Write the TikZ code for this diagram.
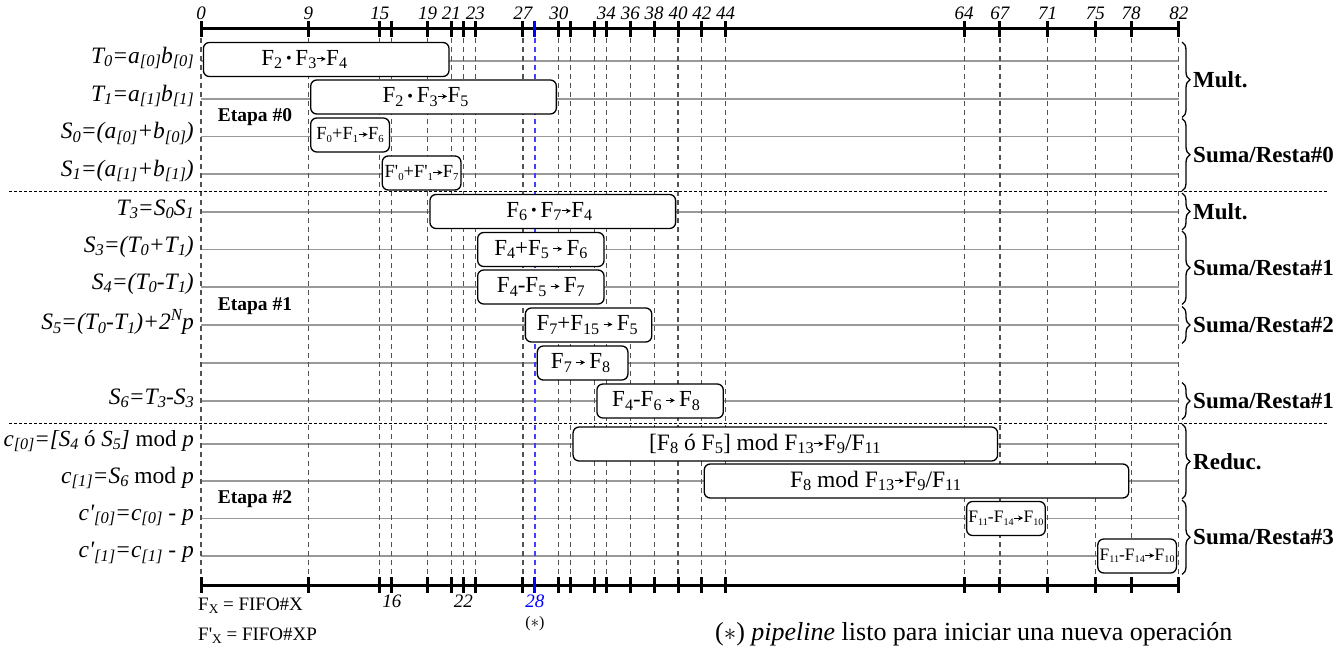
\documentclass[tikz,border=0pt]{standalone}
\usepackage{fontspec}
\setmainfont{Liberation Serif}
\usepackage{graphicx}
\usetikzlibrary{decorations.pathreplacing,arrows.meta}
\newcommand{\sbs}[1]{\raisebox{-0.3ex}{\scalebox{0.7}{#1}}}
\newcommand{\sbl}[1]{\raisebox{-0.3ex}{\scalebox{0.7}{#1}}}
\newcommand{\sbt}[1]{\raisebox{-0.3ex}{\scalebox{0.58}{#1}}}
\newcommand{\sps}[1]{\raisebox{0.9ex}{\scalebox{0.72}{#1}}}
\newcommand{\pr}{\textquotesingle}
\newcommand{\F}[1]{F\sbs{#1}}
\newcommand{\Ft}[1]{F\sbt{#1}}
\newcommand{\Fq}[1]{F\pr\sbs{#1}}
\newcommand{\Fqt}[1]{F\pr\sbt{#1}}
\newcommand{\arw}{\tikz[baseline=-0.28em]\draw[line width=0.9pt,-{Stealth[length=5pt,width=5pt]}](0pt,0pt)--(9pt,0pt);}
\newcommand{\bul}{\,\raisebox{0.08em}{\scalebox{0.7}{\textbullet}}\,}
% name, start, end, y, text, font size, left shift of the text (pt)
\newcommand{\opb}[7]{\node[opbox, font=\fontsize{#6}{#6}\selectfont, minimum width={(#3-#2)*11.925-4.8}] (#1) at ({201+(#2+#3)*5.9625}, #4) {#5\hspace*{#7pt}};}
\newcommand{\grpbrace}[4]{%
  \coordinate (#4a) at (1182,#1);
  \coordinate (#4b) at (1182,#2);
  \draw[brc] (#4a) -- (#4b);
  \node[grp] (#4) at (1193,{(#1+#2)/2}) {#3};}
\begin{document}
\begin{tikzpicture}[x=1pt,y=-1pt,
  rowline/.style={draw=black!40, line width=1.4pt},
  vdash/.style={draw=black!68, dash pattern=on 5pt off 4pt, line width=1.2pt},
  vblue/.style={draw=blue!75, dash pattern=on 5pt off 4pt, line width=1.2pt},
  axisline/.style={line width=3pt},
  tickline/.style={line width=3pt},
  sepline/.style={dash pattern=on 3pt off 2pt, line width=1pt},
  opbox/.style={draw, fill=white, rounded corners=6pt, line width=1.3pt, minimum height=34pt, inner sep=0pt},
  lab/.style={anchor=east, font=\fontsize{23.5}{23.5}\selectfont\itshape, inner sep=0pt},
  num/.style={font=\fontsize{19}{19}\selectfont\itshape, inner sep=0pt},
  grp/.style={anchor=west, font=\fontsize{23}{23}\selectfont\bfseries, inner sep=0pt},
  etapa/.style={font=\fontsize{19.5}{19.5}\selectfont\bfseries},
  brc/.style={decorate, decoration={brace, amplitude=8pt}, line width=1.3pt},
  legend/.style={anchor=west, font=\fontsize{19}{19}\selectfont, inner sep=0pt}
]
\useasboundingbox (0,0) rectangle (1343,650);

% row lines
\foreach \n/\y in {T0/61,T1/99,S0/136.5,S1/174,T3/212,S3/249.5,S4/287,S5/325,E/363,S6/401,c0/444,c1/481,cp0/518.5,cp1/556}{
  \coordinate (L\n) at (201,\y);
  \coordinate (R\n) at (1179,\y);
  \draw[rowline] (L\n) -- (R\n);
}

% vertical dashed lines
\foreach \t in {0,9,15,16,19,21,22,23,27,30,31,33,34,36,38,40,42,44,64,67,71,75,78,82}{
  \coordinate (Vt\t) at ({201+\t*11.925},29);
  \coordinate (Vb\t) at ({201+\t*11.925},585);
  \draw[vdash] (Vt\t) -- (Vb\t);
}
\coordinate (Vt28) at ({201+28*11.925},29);
\coordinate (Vb28) at ({201+28*11.925},585);
\draw[vblue] (Vt28) -- (Vb28);

% separators
\coordinate (SepA1) at (9,191.5); \coordinate (SepA2) at (1328,191.5);
\coordinate (SepB1) at (9,423);   \coordinate (SepB2) at (1328,423);
\draw[sepline] (SepA1) -- (SepA2);
\draw[sepline] (SepB1) -- (SepB2);

% axes
\coordinate (AT0) at (201,29); \coordinate (AT82) at (1179,29);
\coordinate (AB0) at (201,585); \coordinate (AB82) at (1179,585);
\draw[axisline] (AT0) -- (AT82);
\draw[axisline] (AB0) -- (AB82);
\foreach \t in {0,9,15,16,19,21,22,23,27,30,31,33,34,36,38,40,42,44,64,67,71,75,78,82}{
  \draw[tickline] ({201+\t*11.925},21) -- ({201+\t*11.925},37);
  \draw[tickline] ({201+\t*11.925},577) -- ({201+\t*11.925},593);
}
\draw[tickline, blue] ({201+28*11.925},21) -- ({201+28*11.925},37);
\draw[tickline, blue] ({201+28*11.925},577) -- ({201+28*11.925},593);

% top numbers
\foreach \t in {0,9,15,19,21,23,27,30,34,36,38,40,42,44,64,67,71,75,78,82}{
  \node[num] (N\t) at ({201+\t*11.925},13) {\t};
}
\node[num] (NB16) at ({201+16*11.925},601) {16};
\node[num] (NB22) at ({201+22*11.925},601) {22};
\node[num, text=blue] (NB28) at ({201+28*11.925},601) {28};
\node[font=\fontsize{16}{16}\selectfont, inner sep=0pt] (star) at ({201+28*11.925},624) {($\ast$)};

% left labels
\node[lab] (lT0) at (194,58) {T\sbl{0}=a\sbl{[0]}b\sbl{[0]}};
\node[lab] (lT1) at (194,96) {T\sbl{1}=a\sbl{[1]}b\sbl{[1]}};
\node[lab] (lS0) at (194,133.5) {S\sbl{0}=(a\sbl{[0]}+b\sbl{[0]})};
\node[lab] (lS1) at (194,171) {S\sbl{1}=(a\sbl{[1]}+b\sbl{[1]})};
\node[lab] (lT3) at (194,209) {T\sbl{3}=S\sbl{0}S\sbl{1}};
\node[lab] (lS3) at (194,246.5) {S\sbl{3}=(T\sbl{0}+T\sbl{1})};
\node[lab] (lS4) at (194,284) {S\sbl{4}=(T\sbl{0}-T\sbl{1})};
\node[lab] (lS5) at (194,322) {S\sbl{5}=(T\sbl{0}-T\sbl{1})+2\sps{N}p};
\node[lab] (lS6) at (194,398) {S\sbl{6}=T\sbl{3}-S\sbl{3}};
\node[lab, font=\fontsize{23}{23}\selectfont\itshape] (lc0) at (194,441) {c\sbl{[0]}=[S\sbl{4} \upshape ó \itshape S\sbl{5}] \upshape mod \itshape p};
\node[lab] (lc1) at (194,478) {c\sbl{[1]}=S\sbl{6} \upshape mod \itshape p};
\node[lab] (lcp0) at (194,515.5) {c\pr\sbl{[0]}=c\sbl{[0]} - p};
\node[lab] (lcp1) at (194,553) {c\pr\sbl{[1]}=c\sbl{[1]} - p};

% etapa labels
\node[etapa] (e0) at (255,117.5) {Etapa \#0};
\node[etapa] (e1) at (255,306) {Etapa \#1};
\node[etapa] (e2) at (255,499.5) {Etapa \#2};

% operation boxes
\opb{bT0}{0}{21}{59.5}{\F{2}\bul\F{3}\arw\F{4}}{23}{44}
\opb{bT1}{9}{30}{97}{\F{2}\bul\F{3}\arw\F{5}}{23}{16}
\opb{bS0}{9}{16}{135}{\Ft{0}+\Ft{1}\arw\Ft{6}}{18.5}{0}
\opb{bS1}{15}{22}{173}{\Fqt{0}+\Fqt{1}\arw\Ft{7}}{18.5}{0}
\opb{bT3}{19}{40}{211.5}{\F{6}\bul\F{7}\arw\F{4}}{23}{7}
\opb{bS3}{23}{34}{249.5}{\F{4}+\F{5}\,\arw\,\F{6}}{23}{0}
\opb{bS4}{23}{34}{287}{\F{4}-\F{5}\,\arw\,\F{7}}{23}{0}
\opb{bS5}{27}{38}{325}{\F{7}+\F{15}\,\arw\,\F{5}}{23}{3}
\opb{bE}{28}{36}{363}{\F{7}\,\arw\,\F{8}}{23}{4}
\opb{bS6}{33}{44}{401}{\F{4}-\F{6}\,\arw\,\F{8}}{23}{8}
\opb{bc0}{31}{67}{444}{[\F{8} ó \F{5}] mod \F{13}\arw\F{9}/\F{11}}{23.5}{41}
\opb{bc1}{42}{78}{481}{\F{8} mod \F{13}\arw\F{9}/\F{11}}{23.5}{82}
\opb{bcp0}{64}{71}{518.5}{\Ft{11}-\Ft{14}\arw\Ft{10}}{17.5}{0}
\opb{bcp1}{75}{82}{556}{\Ft{11}-\Ft{14}\arw\Ft{10}}{17.5}{0}

% braces
\grpbrace{42}{117.5}{Mult.}{g1}
\grpbrace{118.5}{191}{Suma/Resta\#0}{g2}
\grpbrace{193}{230}{Mult.}{g3}
\grpbrace{231}{304.5}{Suma/Resta\#1}{g4}
\grpbrace{306.5}{343.5}{Suma/Resta\#2}{g5}
\grpbrace{382.5}{419.5}{Suma/Resta\#1}{g6}
\grpbrace{424}{499}{Reduc.}{g7}
\grpbrace{500}{574.5}{Suma/Resta\#3}{g8}

% legend
\node[legend] (leg1) at (198,606) {\F{X} = FIFO\#X};
\node[legend] (leg2) at (198,636) {\Fq{X} = FIFO\#XP};
\node[anchor=west, font=\fontsize{26}{26}\selectfont, inner sep=0pt] (foot) at (715,634) {($\ast$) \textit{pipeline} listo para iniciar una nueva operación};
\end{tikzpicture}
\end{document}
